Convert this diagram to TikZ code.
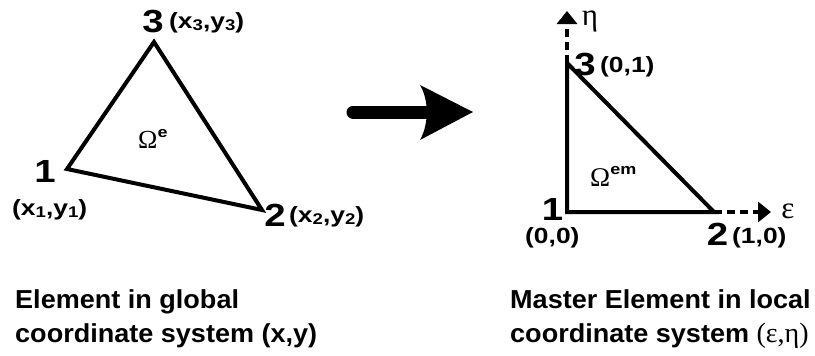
\documentclass[tikz,border=0pt]{standalone}
\usepackage{fontspec}
\setmainfont{Liberation Sans}
\newfontfamily\labfont[FakeStretch=1.2]{Liberation Sans}
\newfontfamily\txtfont[FakeStretch=1.04]{Liberation Sans}
\newfontfamily\grk{Liberation Serif}
\usetikzlibrary{arrows.meta}
\newcommand\lsub[1]{\raisebox{-0.1em}{\fontsize{15.5}{15.5}\selectfont #1}}
\tikzset{
  num/.style={inner sep=0pt, anchor=base, font=\labfont\bfseries\fontsize{32}{32}\selectfont},
  crd/.style={inner sep=0pt, anchor=base west, font=\labfont\bfseries\fontsize{22}{22}\selectfont},
  captxt/.style={inner sep=0pt, anchor=base west, font=\txtfont\bfseries\fontsize{26}{30}\selectfont},
  edgeline/.style={line width=4pt, line join=miter},
  axisline/.style={line width=3.5pt, dash pattern=on 8pt off 5pt, -{Triangle[width=20pt,length=13pt]}},
  greek/.style={inner sep=0pt, font=\grk\fontsize{31}{31}\selectfont},
}
\begin{document}
\begin{tikzpicture}[x=1pt,y=-1pt]
\useasboundingbox (0,0) rectangle (815,356);
% left element
\coordinate (A1) at (67,169);
\coordinate (A2) at (262,210);
\coordinate (A3) at (154,42);
\draw[edgeline] (A1) -- (A2) -- (A3) -- cycle;
\node[num] (n1) at (45,182) {1};
\node[num] (n2) at (275,226) {2};
\node[num] (n3) at (153,32) {3};
\node[crd] (c1) at (12,215.5) {(x\lsub{1},y\lsub{1})};
\node[crd] (c2) at (289,222.5) {(x\lsub{2},y\lsub{2})};
\node[crd] (c3) at (169,28) {(x\lsub{3},y\lsub{3})};
\node[inner sep=0pt, anchor=base west] (om1) at (138,148) {\grk\fontsize{26}{26}\selectfont Ω\raisebox{0.42em}{\labfont\bfseries\fontsize{15}{15}\selectfont e}};
% big arrow
\coordinate (s0) at (353,112);
\coordinate (s1) at (428,112);
\coordinate (tip) at (473,112);
\draw[line width=13pt, line cap=round] (s0) -- (s1);
\fill (tip) -- (420,85) .. controls (429,100) and (429,124) .. (420,140) -- cycle;
% master element
\coordinate (B1) at (567,212);
\coordinate (B2) at (714,212);
\coordinate (B3) at (567,63);
\coordinate (etaend) at (567,11);
\coordinate (epsend) at (771,212);
\draw[axisline] (B3) -- (etaend);
\draw[axisline] (B2) -- (epsend);
\draw[edgeline] (B1) -- (B2) -- (B3) -- cycle;
\node[num] (m1) at (552.5,220) {1};
\node[num] (m2) at (717.5,245) {2};
\node[num] (m3) at (585,75) {3};
\node[crd] (d1) at (525,243.5) {(0,0)};
\node[crd] (d2) at (732,243) {(1,0)};
\node[crd] (d3) at (600,72) {(0,1)};
\node[greek] (eps) at (788,211) {ε};
\node[greek, anchor=base] (eta) at (590,25) {η};
\node[inner sep=0pt, anchor=base west] (om2) at (590,186) {\grk\fontsize{27}{27}\selectfont Ω\raisebox{0.42em}{\labfont\bfseries\fontsize{15}{15}\selectfont em}};
% captions
\node[captxt] (t1) at (15,308) {Element in global};
\node[captxt] (t2) at (15,342) {coordinate system (x,y)};
\node[captxt] (t3) at (510,308) {Master Element in local};
\node[captxt] (t4) at (510,342) {coordinate system {\grk\mdseries\fontsize{28}{30}\selectfont(ε,η)}};
\end{tikzpicture}
\end{document}
